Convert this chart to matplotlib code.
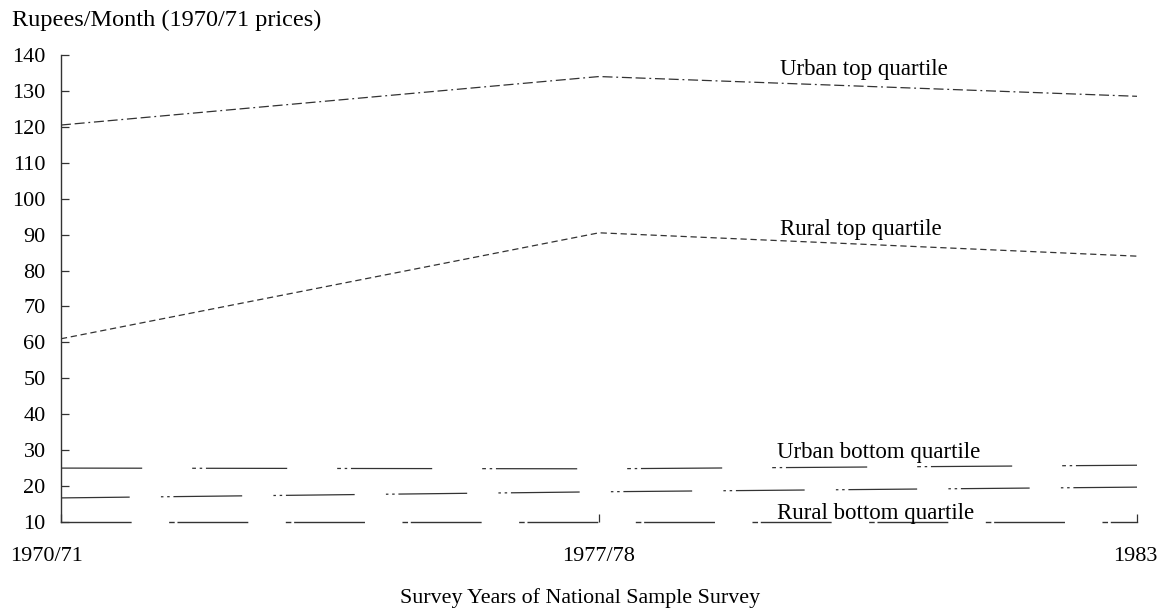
import matplotlib
matplotlib.use("Agg")
import matplotlib.pyplot as plt
from matplotlib.transforms import ScaledTranslation

# ---- data ----
years = ["1970/71", "1977/78", "1983"]
urban_top = [120.5, 134.0, 128.5]
rural_top = [61.0, 90.5, 84.0]
urban_bottom = [25.0, 24.8, 25.8]
rural_bottom = [16.7, 18.4, 19.7]
series_names = ["Urban top quartile", "Rural top quartile",
                "Urban bottom quartile", "Rural bottom quartile"]
yticks = list(range(10, 141, 10))

plt.rcParams['font.family'] = ['Liberation Serif', 'DejaVu Serif']

fig = plt.figure(figsize=(11.63, 6.11), dpi=100)
ax = fig.add_axes([0.0524, 0.1457, 0.9253, 0.7643])

x = list(range(len(years)))
col = "#333333"
ax.plot(x, urban_top, color=col, lw=0.9, linestyle=(0, (8, 3, 8, 3, 1.5, 3)))
ax.plot(x, rural_top, color=col, lw=0.9, linestyle=(0, (5, 3)))
ax.plot(x, urban_bottom, color=col, lw=0.9, linestyle=(0, (65, 40, 3, 3, 2, 3)))
ax.plot(x, rural_bottom, color=col, lw=0.9, linestyle=(0, (55, 25, 2, 3, 2, 3)))

ax.set_xlim(0, 2)
ax.set_ylim(10, 140)
ax.set_yticks(yticks)
ax.set_xticks(x)
ax.set_xticklabels(years)
ax.tick_params(axis='both', direction='in', length=6, width=0.9, color=col,
               labelsize=16, labelcolor='black')
ax.tick_params(axis='x', pad=18)
ax.tick_params(axis='y', pad=11)
labs = ax.get_xticklabels()
labs[0].set_transform(labs[0].get_transform() + ScaledTranslation(-14/100, 0, fig.dpi_scale_trans))
labs[2].set_transform(labs[2].get_transform() + ScaledTranslation(-2/100, 0, fig.dpi_scale_trans))

for s in ['top', 'right']:
    ax.spines[s].set_visible(False)
ax.spines['left'].set_color(col)
ax.spines['left'].set_linewidth(1.0)
ax.spines['bottom'].set_color(col)
ax.spines['bottom'].set_linewidth(1.0)
ax.spines['bottom'].set_linestyle((0, (50, 28, 3, 3)))

# series labels (positions in pixels converted to axes fraction)
def px(xp, yp):
    return ((xp - 61) / (1137 - 61), (522 - yp) / (522 - 55))

for name, (xp, yp) in zip(series_names, [(780, 70), (780, 230), (777, 453), (777, 514)]):
    ax.text(*px(xp, yp), name, fontsize=16.5, va='center', ha='left',
            transform=ax.transAxes)

fig.text(12/1163, 1 - 20/611, "Rupees/Month (1970/71 prices)", fontsize=17.5,
         ha='left', va='center')
fig.text(580/1163, 1 - 598/611, "Survey Years of National Sample Survey", fontsize=15.8,
         ha='center', va='center')

fig.savefig("out.png", dpi=100)
